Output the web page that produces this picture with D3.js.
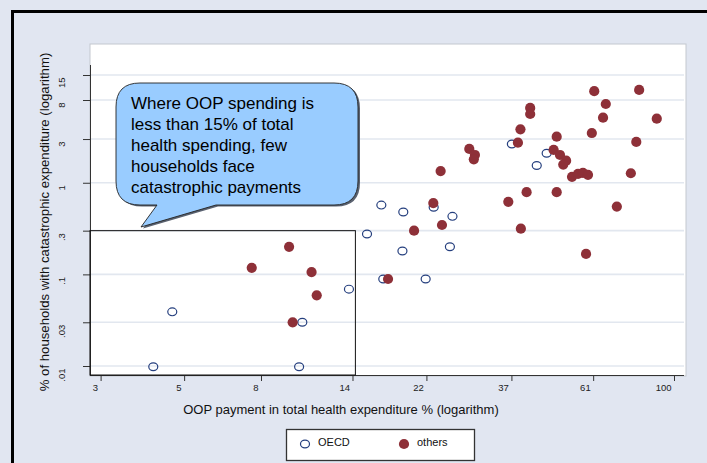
<!DOCTYPE html>
<html>
<head>
<meta charset="utf-8">
<script src="https://cdn.jsdelivr.net/npm/d3@7/dist/d3.min.js"></script>
<style>
  html, body { margin: 0; padding: 0; background: #e1e6f1; }
  svg { display: block; font-family: "Liberation Sans", Arial, sans-serif; }
</style>
</head>
<body>
<svg id="chart" width="707" height="463"></svg>
<script>
// OOP share of total health expenditure (%) vs. share of households with catastrophic expenditure (%)
const oecdX = [4.14, 4.65, 10.1, 10.3, 13.7, 15.3, 16.9, 16.7, 19.1, 19.0, 21.9, 23.0, 25.8, 25.4, 37.1, 45.9, 43.2];
const oecdY = [0.0098, 0.039, 0.0098, 0.030, 0.069, 0.276, 0.089, 0.57, 0.48, 0.18, 0.089, 0.54, 0.43, 0.20, 2.65, 2.10, 1.54];

const othersX = [9.5, 7.56, 10.9, 11.25, 9.71, 17.4, 20.4, 24.2, 22.95, 24.0, 28.6, 29.6, 29.4, 36.3, 40.6, 48.8,
                 70.5, 39.2, 58.4, 61.4, 80.8, 65.9, 41.5, 41.5, 64.8, 90.0, 39.1, 48.8, 60.5, 79.4, 38.5, 47.9,
                 49.8, 51.7, 50.8, 53.6, 55.6, 57.3, 59.1, 76.8];
const othersY = [0.20, 0.118, 0.106, 0.059, 0.030, 0.089, 0.30, 0.346, 0.60, 1.34, 2.34, 2.01, 1.80, 0.62, 0.79, 0.79,
                 0.55, 0.315, 0.167, 10.0, 10.3, 7.24, 6.55, 5.63, 5.13, 5.0, 3.83, 3.18, 3.49, 2.79, 2.74, 2.28,
                 2.01, 1.74, 1.58, 1.16, 1.25, 1.28, 1.22, 1.27];

const xTicks = [3, 5, 8, 14, 22, 37, 61, 100];
const yTicks = [0.01, 0.03, 0.1, 0.3, 1, 3, 8, 15];
const yTickLabels = [".01", ".03", ".1", ".3", "1", "3", "8", "15"];

// threshold box: OOP below ~14% and catastrophic share below .3%
const boxX = 14.25;
const boxY = 0.3;

const calloutLines = ["Where OOP spending is", "less than 15% of total", "health spending, few",
                      "households face", "catastrophic payments"];
const legendLabels = ["OECD", "others"];

const svg = d3.select("#chart");

// outer frame (top and left edges)
svg.append("rect").attr("x", 0).attr("y", 0).attr("width", 707).attr("height", 463).attr("fill", "#e1e6f1");
svg.append("line").attr("x1", 11).attr("x2", 707).attr("y1", 11.5).attr("y2", 11.5)
  .attr("stroke", "#000").attr("stroke-width", 3);
svg.append("line").attr("x1", 12.5).attr("x2", 12.5).attr("y1", 10).attr("y2", 463)
  .attr("stroke", "#000").attr("stroke-width", 3);

const plot = { left: 90, right: 686, top: 44, bottom: 376 };

const x = d3.scaleLog().domain([3, 100]).range([100.6, 674]);
const y = d3.scaleLog().domain([0.01, 15]).range([366, 75]);

// plot region
svg.append("rect")
  .attr("x", plot.left).attr("y", plot.top)
  .attr("width", plot.right - plot.left).attr("height", plot.bottom - plot.top)
  .attr("fill", "#fff").attr("stroke", "#c4c8cf").attr("stroke-width", 1);

// horizontal grid
svg.append("g").selectAll("line").data(yTicks).join("line")
  .attr("x1", plot.left).attr("x2", plot.right - 2)
  .attr("y1", d => y(d)).attr("y2", d => y(d))
  .attr("stroke", "#e2e7ef").attr("stroke-width", 1.6);

// y axis
const yAxis = d3.axisLeft(y).tickValues(yTicks).tickSize(7)
  .tickFormat((d, i) => yTickLabels[i]);
const gy = svg.append("g").attr("transform", `translate(${plot.left},0)`).call(yAxis);
gy.select(".domain").attr("d", `M0.5,${plot.top + 21}V${plot.bottom - 1}`).attr("stroke", "#333");
gy.selectAll(".tick line").attr("stroke", "#333");
gy.selectAll(".tick text")
  .attr("x", 0).attr("dy", 0).attr("y", 0)
  .attr("transform", "translate(-25,2) rotate(-90)")
  .attr("text-anchor", "end")
  .attr("font-size", 9.5).attr("fill", "#222");

// x axis
const xAxis = d3.axisBottom(x).tickValues(xTicks).tickSize(6).tickFormat(d3.format("d"));
const gx = svg.append("g").attr("transform", `translate(0,${plot.bottom - 1})`).call(xAxis);
gx.select(".domain").attr("d", `M${plot.left},0.5H${plot.right - 2}`).attr("stroke", "#333");
gx.selectAll(".tick line").attr("stroke", "#333");
gx.selectAll(".tick text")
  .attr("y", 13).attr("dy", "0.35em").attr("x", -3)
  .attr("text-anchor", "end")
  .attr("font-size", 9.5).attr("fill", "#222");

// axis titles
svg.append("text")
  .attr("transform", `translate(49,222) rotate(-90)`)
  .attr("text-anchor", "middle").attr("font-size", 13.2).attr("fill", "#111")
  .text("% of households with catastrophic expenditure (logarithm)");
svg.append("text")
  .attr("x", 341).attr("y", 414)
  .attr("text-anchor", "middle").attr("font-size", 13).attr("fill", "#111")
  .text("OOP payment in total health expenditure % (logarithm)");

// threshold box
svg.append("rect")
  .attr("x", plot.left).attr("y", y(boxY))
  .attr("width", x(boxX) - plot.left).attr("height", (plot.bottom - 1) - y(boxY))
  .attr("fill", "none").attr("stroke", "#111").attr("stroke-width", 1);

// OECD markers (hollow) and others (filled)
const oecd = oecdX.map((v, i) => ({ x: v, y: oecdY[i] }));
const others = othersX.map((v, i) => ({ x: v, y: othersY[i] }));

svg.append("g").selectAll("ellipse").data(oecd).join("ellipse")
  .attr("cx", d => x(d.x)).attr("cy", d => y(d.y))
  .attr("rx", 4.5).attr("ry", 3.9)
  .attr("fill", "none").attr("stroke", "#253f7e").attr("stroke-width", 1.2);

svg.append("g").selectAll("circle").data(others).join("circle")
  .attr("cx", d => x(d.x)).attr("cy", d => y(d.y))
  .attr("r", 5.1)
  .attr("fill", "#8e3038");

// callout bubble
function bubblePath(l, t, r, b, rad, p1, p2, tx, ty) {
  return `M${l + rad},${t}H${r - rad}Q${r},${t} ${r},${t + rad}V${b - rad}Q${r},${b} ${r - rad},${b}` +
         `H${p2}L${tx},${ty}L${p1},${b}H${l + rad}Q${l},${b} ${l},${b - rad}V${t + rad}Q${l},${t} ${l + rad},${t}Z`;
}
const bp = bubblePath(116, 83, 358, 205, 24, 157, 216, 141, 227);
svg.append("path").attr("d", bp).attr("transform", "translate(2,1.5)").attr("fill", "#5a6270");
svg.append("path").attr("d", bp).attr("fill", "#99ccff").attr("stroke", "#222").attr("stroke-width", 0.9);

svg.append("g").selectAll("text").data(calloutLines).join("text")
  .attr("x", 131).attr("y", (d, i) => 109 + i * 21)
  .attr("font-size", 17).attr("fill", "#000")
  .text(d => d);

// legend
const lg = svg.append("g");
lg.append("rect").attr("x", 286.5).attr("y", 429.5).attr("width", 188).attr("height", 31)
  .attr("fill", "#fff").attr("stroke", "#333").attr("stroke-width", 1.3);
lg.append("ellipse").attr("cx", 305).attr("cy", 444).attr("rx", 4.5).attr("ry", 3.9)
  .attr("fill", "none").attr("stroke", "#253f7e").attr("stroke-width", 1.2);
lg.append("text").attr("x", 318).attr("y", 445.5).attr("font-size", 11).attr("fill", "#111").text(legendLabels[0]);
lg.append("circle").attr("cx", 404).attr("cy", 444).attr("r", 5.1).attr("fill", "#8e3038");
lg.append("text").attr("x", 417).attr("y", 445.5).attr("font-size", 11).attr("fill", "#111").text(legendLabels[1]);
</script>
</body>
</html>
